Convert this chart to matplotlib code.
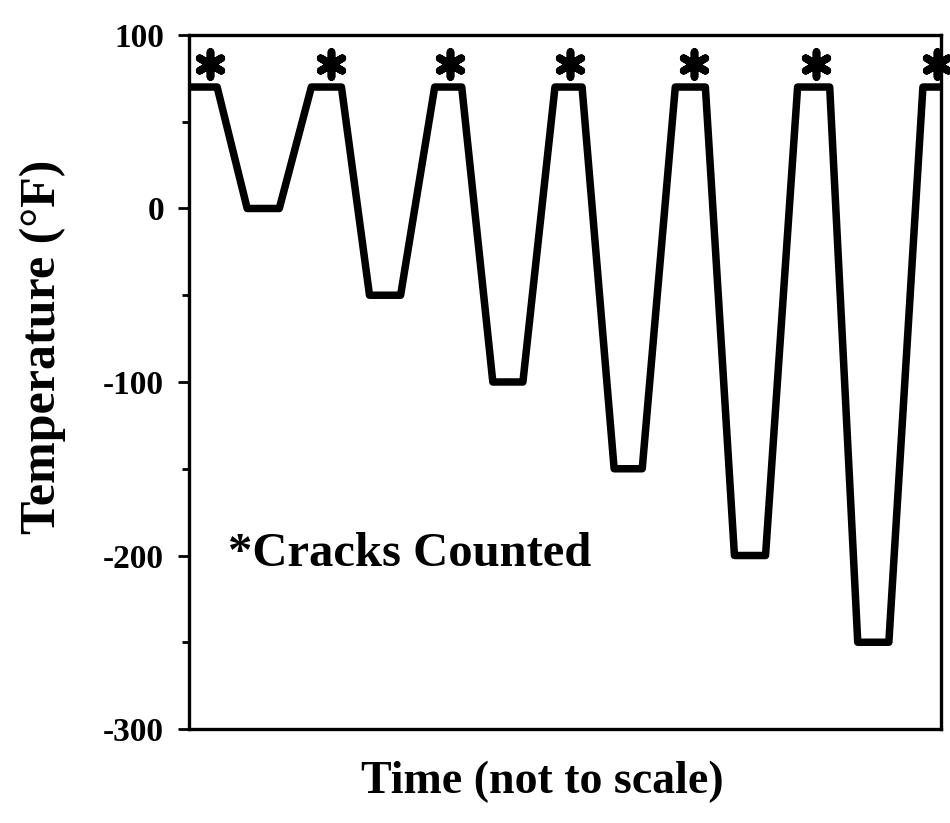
import matplotlib
matplotlib.use("Agg")
import matplotlib.pyplot as plt
from matplotlib.ticker import MultipleLocator
from matplotlib.markers import MarkerStyle

# Data (time in arbitrary "not to scale" units, temperature in °F)
time_pts = [0, 28, 58, 90, 122, 152, 180, 211, 245, 272, 303, 333, 365, 392,
            424, 452, 485, 515, 544, 575, 607, 639, 667, 698, 732, 770]
temp_pts = [70, 70, 0, 0, 70, 70, -50, -50, 70, 70, -100, -100, 70, 70,
            -150, -150, 70, 70, -200, -200, 70, 70, -250, -250, 70, 70]
star_times = [21, 142, 260, 380, 504, 625, 746]
star_temps = [83, 83, 83, 83, 83, 83, 83]
y_ticks = [100, 0, -100, -200, -300]

serif = ["Liberation Serif", "DejaVu Serif"]

fig = plt.figure(figsize=(9.5, 8.23), dpi=100)
ax = fig.add_axes([0.199, 0.1142, 0.7915, 0.8433])

ax.plot(time_pts, temp_pts, color="black", lw=5.4, solid_joinstyle="round",
        solid_capstyle="butt")

star = MarkerStyle((6, 2, 0), capstyle="round", joinstyle="round")
ax.plot(star_times, star_temps, linestyle="none", marker=star, ms=18,
        mew=5.5, color="black", clip_on=False)

ax.set_xlim(0, 750)
ax.set_ylim(-300, 100)
ax.set_yticks(y_ticks)
ax.set_yticklabels([str(v) for v in y_ticks])
ax.yaxis.set_minor_locator(MultipleLocator(50))
ax.set_xticks([])

for s in ax.spines.values():
    s.set_linewidth(2.4)
    s.set_color("black")

ax.tick_params(axis="y", which="major", direction="out", length=8, width=2,
               pad=10, labelsize=24)
ax.tick_params(axis="y", which="minor", direction="out", length=5, width=2)
for lab in ax.get_yticklabels():
    lab.set_fontfamily(serif)
    lab.set_fontweight("bold")

ax.set_ylabel("Temperature (°F)", fontsize=36, fontweight="bold",
              family=serif)
ax.yaxis.set_label_coords(-0.163, 0.55)
ax.set_xlabel("Time (not to scale)", fontsize=33, fontweight="bold",
              family=serif)
ax.xaxis.set_label_coords(0.47, -0.045)

ax.text(0.052, 0.235, "*Cracks Counted", transform=ax.transAxes,
        fontsize=35, fontweight="bold", family=serif, ha="left",
        va="baseline")

fig.savefig("out.png", dpi=100)
